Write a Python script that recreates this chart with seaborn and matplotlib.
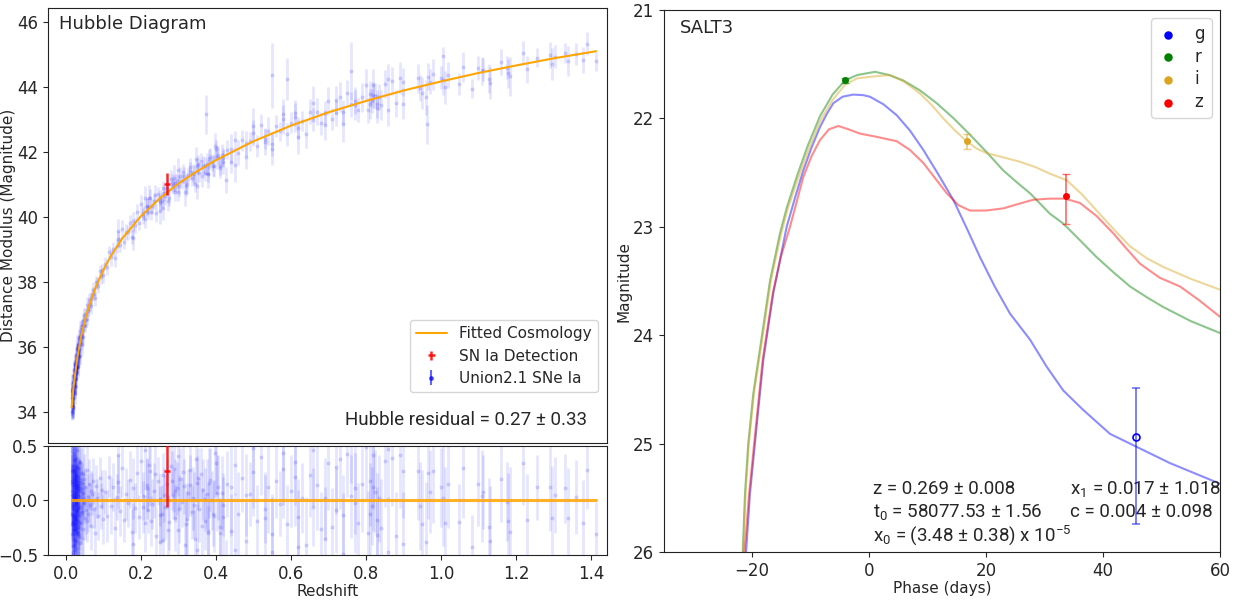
import numpy as np
import matplotlib
matplotlib.use("Agg")
import matplotlib.pyplot as plt
from matplotlib.legend_handler import HandlerErrorbar
import seaborn as sns

sns.set_style("ticks")
plt.rcParams['font.family'] = ['DejaVu Sans']
plt.rcParams['mathtext.fontset'] = 'custom'
plt.rcParams['mathtext.rm'] = 'Roboto'
plt.rcParams['mathtext.it'] = 'Roboto'
plt.rcParams['xtick.direction'] = 'out'
plt.rcParams['ytick.direction'] = 'out'
plt.rcParams['axes.edgecolor'] = '#222222'
NARROW = ['Roboto', 'DejaVu Sans']

# ---------------- Hubble diagram data ----------------
curve_z = [0.015, 0.02, 0.03, 0.04, 0.05, 0.06, 0.08, 0.10, 0.12, 0.15, 0.20, 0.25,
           0.30, 0.35, 0.40, 0.50, 0.60, 0.70, 0.80, 0.90, 1.00, 1.10, 1.20, 1.30, 1.414]
curve_mu = [34.13, 34.77, 35.66, 36.31, 36.81, 37.22, 37.87, 38.38, 38.81, 39.34, 40.03, 40.57,
            41.03, 41.41, 41.75, 42.33, 42.81, 43.22, 43.57, 43.89, 44.17, 44.43, 44.66, 44.88, 45.10]

lowz_z = [0.015, 0.016, 0.016, 0.017, 0.017, 0.018, 0.018, 0.019, 0.019, 0.020,
          0.020, 0.021, 0.021, 0.022, 0.022, 0.023, 0.023, 0.024, 0.024, 0.025,
          0.025, 0.026, 0.026, 0.027, 0.027, 0.028, 0.028, 0.029, 0.030, 0.030,
          0.031, 0.031, 0.032, 0.033, 0.033, 0.034, 0.035, 0.035, 0.036, 0.037,
          0.038, 0.039, 0.040, 0.041, 0.042, 0.043, 0.044, 0.045, 0.046, 0.048,
          0.049, 0.050, 0.052, 0.053, 0.055, 0.056, 0.058, 0.060, 0.062, 0.064,
          0.066, 0.068, 0.070, 0.072, 0.075, 0.078, 0.080, 0.083, 0.086, 0.090,
          0.093, 0.096, 0.100, 0.016, 0.019, 0.024, 0.028, 0.032, 0.037, 0.045]
lowz_res = [-0.12, 0.18, -0.31, 0.05, 0.27, -0.08, -0.42, 0.12, -0.20, 0.33,
            -0.05, 0.21, -0.27, 0.08, -0.15, 0.40, -0.36, 0.02, 0.14, -0.22,
            0.26, -0.10, 0.06, -0.38, 0.17, 0.31, -0.03, -0.18, 0.10, -0.29,
            0.22, -0.07, 0.13, -0.24, 0.04, 0.35, -0.14, 0.09, -0.33, 0.19,
            -0.06, 0.11, -0.21, 0.25, 0.01, -0.11, 0.16, -0.26, 0.07, -0.02,
            0.20, -0.16, 0.12, -0.09, 0.28, -0.19, 0.03, -0.12, 0.15, -0.04,
            0.09, -0.23, 0.06, 0.18, -0.08, -0.30, 0.13, 0.02, -0.14, 0.21,
            -0.05, 0.10, -0.17, 0.45, -0.47, 0.38, -0.44, 0.30, -0.39, 0.24]
lowz_err = [0.22, 0.25, 0.20, 0.28, 0.18, 0.24, 0.30, 0.21, 0.26, 0.19,
            0.23, 0.27, 0.20, 0.22, 0.29, 0.18, 0.25, 0.21, 0.24, 0.20,
            0.26, 0.22, 0.19, 0.28, 0.23, 0.21, 0.25, 0.20, 0.24, 0.22,
            0.18, 0.26, 0.21, 0.23, 0.19, 0.27, 0.20, 0.22, 0.25, 0.18,
            0.21, 0.24, 0.19, 0.23, 0.20, 0.22, 0.18, 0.25, 0.21, 0.19,
            0.23, 0.20, 0.18, 0.22, 0.24, 0.19, 0.21, 0.17, 0.23, 0.20,
            0.18, 0.22, 0.19, 0.21, 0.17, 0.24, 0.20, 0.18, 0.22, 0.19,
            0.21, 0.18, 0.23, 0.30, 0.32, 0.28, 0.31, 0.27, 0.29, 0.26]

lowz2_z = [0.015, 0.016, 0.017, 0.018, 0.019, 0.020, 0.021, 0.022, 0.023, 0.024,
           0.025, 0.026, 0.027, 0.028, 0.029, 0.030, 0.031, 0.032, 0.034, 0.036,
           0.017, 0.019, 0.021, 0.023, 0.025, 0.027, 0.029, 0.033, 0.038, 0.042]
lowz2_res = [0.09, -0.22, 0.15, -0.35, 0.28, -0.13, 0.04, 0.37, -0.26, 0.19,
             -0.41, 0.07, -0.17, 0.23, -0.09, 0.32, -0.30, 0.11, -0.20, 0.16,
             0.48, -0.49, 0.43, -0.45, 0.02, -0.01, 0.46, -0.48, 0.35, -0.34]
lowz2_err = [0.24, 0.21, 0.27, 0.23, 0.26, 0.20, 0.28, 0.22, 0.25, 0.19,
             0.27, 0.23, 0.21, 0.26, 0.24, 0.22, 0.28, 0.20, 0.25, 0.23,
             0.32, 0.34, 0.30, 0.33, 0.29, 0.31, 0.35, 0.30, 0.28, 0.32]

midz_z = [0.105, 0.11, 0.115, 0.12, 0.125, 0.13, 0.135, 0.14, 0.145, 0.15,
          0.155, 0.16, 0.165, 0.17, 0.175, 0.18, 0.185, 0.19, 0.195, 0.20,
          0.205, 0.21, 0.215, 0.22, 0.225, 0.23, 0.235, 0.24, 0.245, 0.25,
          0.255, 0.26, 0.265, 0.27, 0.275, 0.28, 0.285, 0.29, 0.295, 0.30,
          0.305, 0.31, 0.315, 0.32, 0.325, 0.33, 0.335, 0.34, 0.345, 0.35,
          0.355, 0.36, 0.365, 0.37, 0.375, 0.38, 0.385, 0.39, 0.395, 0.40,
          0.405, 0.41, 0.415, 0.42, 0.14, 0.18, 0.21, 0.25, 0.30, 0.35]
midz_res = [0.08, -0.14, 0.22, -0.05, 0.12, -0.25, 0.03, 0.17, -0.10, 0.30,
            -0.18, 0.06, -0.02, 0.19, -0.29, 0.11, -0.07, 0.25, -0.15, 0.36,
            0.04, -0.21, 0.14, -0.09, 0.27, -0.03, 0.09, -0.33, 0.18, 0.01,
            -0.12, 0.23, -0.06, 0.15, -0.20, 0.32, 0.05, -0.16, 0.11, -0.27,
            0.20, -0.01, 0.13, -0.22, 0.07, 0.28, -0.11, 0.02, -0.35, 0.16,
            -0.08, 0.24, 0.10, -0.19, 0.06, -0.30, 0.19, 0.00, -0.14, 0.34,
            0.12, -0.24, 0.07, -0.04, 0.42, -0.40, 0.46, -0.38, 0.41, -0.45]
midz_err = [0.20, 0.24, 0.19, 0.26, 0.22, 0.28, 0.21, 0.25, 0.23, 0.27,
            0.20, 0.24, 0.22, 0.26, 0.21, 0.28, 0.23, 0.25, 0.20, 0.30,
            0.22, 0.26, 0.24, 0.21, 0.28, 0.23, 0.25, 0.27, 0.22, 0.24,
            0.26, 0.21, 0.29, 0.23, 0.25, 0.27, 0.22, 0.30, 0.24, 0.26,
            0.28, 0.23, 0.25, 0.31, 0.22, 0.27, 0.24, 0.29, 0.26, 0.25,
            0.30, 0.24, 0.28, 0.26, 0.32, 0.25, 0.29, 0.27, 0.33, 0.28,
            0.30, 0.26, 0.34, 0.29, 0.35, 0.38, 0.36, 0.40, 0.37, 0.42]

sdss_z = [0.205, 0.215, 0.228, 0.238, 0.252, 0.262, 0.272, 0.283, 0.292, 0.302,
          0.312, 0.322, 0.332, 0.342, 0.352, 0.362, 0.372, 0.382, 0.392, 0.402,
          0.412, 0.222, 0.258, 0.288, 0.318, 0.348, 0.378, 0.398, 0.418, 0.44]
sdss_res = [-0.06, 0.11, -0.19, 0.24, -0.13, 0.05, -0.27, 0.18, 0.09, -0.08,
            0.26, -0.17, 0.14, -0.04, 0.21, -0.23, 0.01, 0.16, -0.12, 0.07,
            -0.30, 0.33, -0.36, 0.29, -0.41, 0.38, -0.28, 0.44, -0.15, 0.12]
sdss_err = [0.24, 0.28, 0.23, 0.30, 0.26, 0.25, 0.32, 0.27, 0.29, 0.31,
            0.26, 0.33, 0.28, 0.30, 0.27, 0.34, 0.29, 0.32, 0.30, 0.35,
            0.31, 0.38, 0.36, 0.40, 0.42, 0.39, 0.44, 0.41, 0.37, 0.45]

highz_z = [0.43, 0.44, 0.45, 0.46, 0.47, 0.48, 0.49, 0.50, 0.51, 0.52,
           0.53, 0.54, 0.55, 0.56, 0.57, 0.58, 0.59, 0.60, 0.61, 0.62,
           0.63, 0.64, 0.65, 0.66, 0.67, 0.68, 0.69, 0.70, 0.71, 0.72,
           0.73, 0.74, 0.75, 0.76, 0.77, 0.78, 0.79, 0.80, 0.805, 0.81,
           0.815, 0.82, 0.825, 0.83, 0.835, 0.84, 0.85, 0.86, 0.87, 0.88,
           0.89, 0.90, 0.45, 0.50, 0.55, 0.58, 0.62, 0.66, 0.74, 0.81,
           0.82, 0.83, 0.48, 0.53, 0.61, 0.69, 0.72, 0.77, 0.86, 0.90]
highz_res = [0.15, -0.28, 0.33, -0.12, 0.21, -0.37, 0.06, 0.26, -0.19, 0.40,
             -0.08, 0.12, -0.31, 0.18, -0.03, 0.29, -0.22, 0.09, 0.35, -0.15,
             0.02, -0.41, 0.23, -0.06, 0.14, -0.26, 0.02, 0.34, -0.24, -0.09,
             0.38, -0.13, 0.43, 0.04, 0.11, -0.21, 0.15, 0.49, -0.30, 0.18,
             -0.05, 0.42, 0.08, -0.18, 0.02, -0.25, 0.36, 0.47, 0.39, -0.33,
             0.42, 0.27, -0.45, 0.48, -0.47, 0.44, -0.43, 0.46, -0.49, -0.12,
             0.12, -0.32, 0.05, -0.16, 0.22, -0.35, 0.31, -0.02, -0.47, -0.40]
highz_err = [0.30, 0.34, 0.28, 0.38, 0.32, 0.36, 0.29, 0.40, 0.33, 0.35,
             0.31, 0.42, 0.37, 0.34, 0.30, 0.45, 0.36, 0.33, 0.39, 0.35,
             0.32, 0.44, 0.38, 0.36, 0.41, 0.34, 0.37, 0.43, 0.35, 0.39,
             0.46, 0.36, 0.40, 0.38, 0.42, 0.37, 0.44, 0.48, 0.39, 0.41,
             0.36, 0.50, 0.38, 0.43, 0.40, 0.45, 0.42, 0.47, 0.44, 0.41,
             0.49, 0.43, 0.52, 0.55, 0.50, 0.48, 0.53, 0.51, 0.56, 0.46,
             0.40, 0.44, 0.38, 0.42, 0.45, 0.47, 0.43, 0.46, 0.50, 0.48]

farz_z = [0.94, 0.945, 0.95, 0.96, 0.965, 0.97, 0.98, 1.00, 1.005, 1.01,
          1.02, 1.047, 1.06, 1.082, 1.10, 1.11, 1.112, 1.128, 1.13, 1.16,
          1.177, 1.18, 1.185, 1.22, 1.23, 1.255, 1.29, 1.295, 1.303, 1.33,
          1.34, 1.36, 1.38, 1.39, 1.414]
farz_res = [0.27, -0.05, -0.22, -0.38, 0.25, 0.08, 0.27, 0.12, 0.02, -0.21,
            0.15, -0.20, 0.30, -0.43, 0.15, 0.04, 0.08, -0.24, -0.37, 0.20,
            -0.01, -0.19, -0.29, 0.34, -0.18, 0.12, 0.12, -0.16, 0.05, 0.11,
            -0.16, 0.03, -0.21, 0.28, -0.31]
farz_err = [0.45, 0.40, 0.50, 0.55, 0.42, 0.38, 0.48, 0.36, 0.44, 0.52,
            0.40, 0.35, 0.46, 0.30, 0.38, 0.42, 0.34, 0.45, 0.50, 0.40,
            0.36, 0.44, 0.60, 0.38, 0.42, 0.30, 0.40, 0.48, 0.35, 0.32,
            0.46, 0.34, 0.40, 0.36, 0.30]

outlier_z = [0.373, 0.549, 0.589, 0.76, 0.964, 1.005, 0.428]
outlier_res = [1.60, 1.80, 1.48, 1.06, -1.22, 0.76, -0.76]
outlier_err = [0.60, 1.00, 0.65, 0.90, 0.60, 0.30, 0.40]

det_z, det_zerr = 0.269, 0.008
det_res, det_err = 0.27, 0.33

# ---------------- Light-curve data (SALT3 model) ----------------
g_phase = [-22.0, -20.99, -20.31, -19.17, -18.03, -16.32, -14.04, -12.6, -11.2, -9.8, -8.35,
           -7.2, -6.07, -4.5, -2.66, -1.0, 0.19, 2.5, 4.75, 7.0, 9.3, 11.8, 14.42, 16.7,
           18.99, 21.5, 24.11, 27.53, 30.38, 33.22, 36.64, 41.2, 45.76, 51.45, 60.0]
g_mag = [26.70, 26.01, 25.46, 24.84, 24.23, 23.61, 23.00, 22.73, 22.48, 22.27, 22.08,
         21.96, 21.86, 21.80, 21.78, 21.785, 21.80, 21.87, 21.97, 22.11, 22.29, 22.51, 22.75, 23.01,
         23.28, 23.55, 23.80, 24.04, 24.29, 24.51, 24.69, 24.91, 25.03, 25.18, 25.37]
r_phase = [-22.2, -21.55, -21.16, -20.6, -19.74, -18.03, -16.89, -15.18, -14.0, -12.33, -10.5,
           -8.35, -6.2, -4.08, -2.0, 1.05, 3.5, 5.88, 8.7, 11.6, 14.5, 17.28, 20.1, 22.97,
           25.3, 27.53, 30.95, 33.22, 36.0, 38.92, 41.8, 44.62, 47.5, 50.3, 55.0, 60.0]
r_mag = [26.70, 26.01, 25.46, 25.00, 24.54, 23.92, 23.50, 23.06, 22.82, 22.54, 22.26,
         21.98, 21.78, 21.65, 21.60, 21.57, 21.60, 21.65, 21.74, 21.86, 22.00, 22.15, 22.31, 22.48,
         22.59, 22.69, 22.88, 22.97, 23.12, 23.28, 23.42, 23.55, 23.65, 23.74, 23.87, 23.98]
i_phase = [-22.1, -21.45, -21.06, -20.5, -19.64, -17.9, -16.75, -15.05, -13.9, -12.2, -10.4,
           -8.35, -6.2, -4.08, -2.0, 1.33, 3.6, 6.0, 8.74, 10.8, 12.72, 14.7, 16.71, 18.5,
           20.13, 23.0, 25.83, 28.5, 30.95, 33.8, 36.4, 38.92, 41.8, 44.62, 47.5, 50.3, 55.0, 60.0]
i_mag = [26.70, 26.01, 25.46, 25.00, 24.54, 23.92, 23.50, 23.08, 22.84, 22.57, 22.30,
         22.03, 21.83, 21.69, 21.63, 21.61, 21.60, 21.66, 21.77, 21.88, 22.00, 22.11, 22.21, 22.28,
         22.32, 22.36, 22.40, 22.45, 22.51, 22.57, 22.70, 22.85, 23.02, 23.18, 23.29, 23.37, 23.48, 23.58]
z_phase = [-22.0, -21.25, -20.45, -19.3, -18.15, -16.4, -15.0, -13.47, -11.2, -9.8, -8.35,
           -6.8, -5.22, -3.5, -1.52, 1.33, 4.75, 7.0, 9.3, 11.3, 13.3, 15.3, 17.28, 20.0,
           22.97, 25.5, 28.1, 30.95, 33.5, 36.07, 38.9, 41.77, 44.0, 46.32, 49.7, 53.16, 56.5, 60.0]
z_mag = [26.70, 26.01, 25.46, 24.84, 24.23, 23.61, 23.27, 23.00, 22.54, 22.35, 22.20,
         22.10, 22.07, 22.10, 22.14, 22.17, 22.21, 22.29, 22.41, 22.55, 22.69, 22.80, 22.85, 22.85,
         22.83, 22.79, 22.75, 22.74, 22.74, 22.78, 22.90, 23.06, 23.20, 23.34, 23.47, 23.55, 23.68, 23.83]

obs_band = ['g', 'r', 'i', 'z']
obs_phase = [45.64, -4.08, 16.71, 33.68]
obs_mag = [24.94, 21.65, 22.21, 22.72]
obs_err_lo = [0.45, 0.02, 0.07, 0.21]
obs_err_hi = [0.80, 0.02, 0.07, 0.25]
band_colors = ['blue', 'green', 'goldenrod', 'red']

# ---------------- derived arrays ----------------
sn_z = np.array(lowz_z + lowz2_z + midz_z + sdss_z + highz_z + farz_z + outlier_z)
sn_res = np.array(lowz_res + lowz2_res + midz_res + sdss_res + highz_res + farz_res + outlier_res)
sn_err = np.array(lowz_err + lowz2_err + midz_err + sdss_err + highz_err + farz_err + outlier_err)
sn_mu = np.interp(sn_z, curve_z, curve_mu) + sn_res
det_mu = float(np.interp(det_z, curve_z, curve_mu)) + det_res

# ---------------- figure ----------------
fig = plt.figure(figsize=(12.5, 6), dpi=100)
ax_top = fig.add_axes([0.0384, 0.2617, 0.4472, 0.725])
ax_res = fig.add_axes([0.0384, 0.075, 0.4472, 0.1817], sharex=ax_top)
ax_lc = fig.add_axes([0.5312, 0.08, 0.4448, 0.9033])

# Top: Hubble diagram
ax_top.errorbar(sn_z, sn_mu, yerr=sn_err, fmt='.', color='blue', ms=4,
                elinewidth=2, alpha=0.1, zorder=2)
sns.lineplot(x=curve_z, y=curve_mu, ax=ax_top, color='orange', lw=1.5,
             legend=False, sort=False, zorder=3)
fit_line = ax_top.lines[-1]
det = ax_top.errorbar([det_z], [det_mu], xerr=[det_zerr], yerr=[det_err], fmt='none',
                      ecolor='red', elinewidth=1.8, alpha=0.85, zorder=4)
proxy = ax_top.errorbar([np.nan], [np.nan], yerr=[0.3], fmt='.', color='blue', ms=5,
                        elinewidth=1.5, alpha=0.6)
ax_top.legend([fit_line, det, proxy], ['Fitted Cosmology', 'SN Ia Detection', 'Union2.1 SNe Ia'],
              loc='lower right', bbox_to_anchor=(0.997, 0.099), fontsize=11, frameon=True,
              handler_map={det: HandlerErrorbar(xerr_size=0.22, yerr_size=0.3)})
ax_top.set_xlim(-0.048, 1.443)
ax_top.set_ylim(33.05, 46.43)
ax_top.set_yticks([34, 36, 38, 40, 42, 44, 46])
ax_top.set_ylabel('Distance Modulus (Magnitude)', fontsize=11, labelpad=1)
ax_top.tick_params(axis='x', bottom=False, labelbottom=False)
ax_top.tick_params(axis='y', labelsize=12)
ax_top.text(0.02, 0.963, 'Hubble Diagram', transform=ax_top.transAxes, fontsize=13,
            va='center', ha='left')
ax_top.text(0.965, 0.053, 'Hubble residual = 0.27 ± 0.33', transform=ax_top.transAxes,
            fontsize=13.5, ha='right', va='center', family=NARROW)

# Bottom: residuals
ax_res.errorbar(sn_z, sn_res, yerr=sn_err, fmt='.', color='blue', ms=4,
                elinewidth=2, alpha=0.1, zorder=2)
sns.lineplot(x=curve_z, y=np.subtract(curve_mu, curve_mu), ax=ax_res, color='orange',
             lw=2.2, alpha=0.85, legend=False, sort=False, zorder=3)
ax_res.errorbar([det_z], [det_res], xerr=[det_zerr], yerr=[det_err], fmt='none',
                ecolor='red', elinewidth=1.8, alpha=0.85, zorder=4)
ax_res.set_ylim(-0.5, 0.5)
ax_res.set_yticks([-0.5, 0.0, 0.5])
ax_res.set_xticks([0.0, 0.2, 0.4, 0.6, 0.8, 1.0, 1.2, 1.4])
ax_res.set_xlabel('Redshift', fontsize=11, labelpad=1)
ax_res.tick_params(labelsize=12)

# Right: SALT3 light curves
for ph, mg, col in [(g_phase, g_mag, 'blue'), (r_phase, r_mag, 'green'),
                    (i_phase, i_mag, 'goldenrod'), (z_phase, z_mag, 'red')]:
    sns.lineplot(x=ph, y=mg, ax=ax_lc, color=col, alpha=0.45, lw=1.5,
                 legend=False, sort=False)

for b, ph, mg, lo, hi, col in zip(obs_band, obs_phase, obs_mag, obs_err_lo, obs_err_hi, band_colors):
    ecol = matplotlib.colors.to_rgba(col, 0.55)
    if b == 'g':
        ax_lc.errorbar([ph], [mg], yerr=[[lo], [hi]], fmt='o', mfc='none', mec=col,
                       ms=5, mew=1.2, ecolor=ecol, capsize=3, elinewidth=1.3, zorder=5)
    else:
        ax_lc.errorbar([ph], [mg], yerr=[[lo], [hi]], fmt='o', color=col,
                       ms=4, ecolor=ecol, capsize=3, elinewidth=1.3, zorder=5)
    ax_lc.scatter([], [], color=col, s=26, label=b)

ax_lc.legend(loc='upper right', fontsize=12, handlelength=1.2, handletextpad=1.0,
             borderpad=0.4, labelspacing=0.28, frameon=True)
ax_lc.set_xlim(-35, 60)
ax_lc.set_ylim(26, 21)
ax_lc.set_xticks([-20, 0, 20, 40, 60])
ax_lc.set_yticks([21, 22, 23, 24, 25, 26])
ax_lc.set_xlabel('Phase (days)', fontsize=11, labelpad=1)
ax_lc.set_ylabel('Magnitude', fontsize=11, labelpad=1)
ax_lc.tick_params(labelsize=12)
ax_lc.text(0.029, 0.967, 'SALT3', transform=ax_lc.transAxes, fontsize=13, va='center')

ax_lc.text(0.376, 0.116, 'z = 0.269 ± 0.008', transform=ax_lc.transAxes, fontsize=13.5,
           va='center', family=NARROW)
ax_lc.text(0.376, 0.074, 't$_0$ = 58077.53 ± 1.56', transform=ax_lc.transAxes, fontsize=13.5,
           va='center', family=NARROW)
ax_lc.text(0.376, 0.031, 'x$_0$ = (3.48 ± 0.38) x 10$^{-5}$', transform=ax_lc.transAxes,
           fontsize=13.5, va='center', family=NARROW)
ax_lc.text(0.730, 0.116, 'x$_1$ = 0.017 ± 1.018', transform=ax_lc.transAxes, fontsize=13.5,
           va='center', family=NARROW)
ax_lc.text(0.730, 0.074, 'c = 0.004 ± 0.098', transform=ax_lc.transAxes, fontsize=13.5,
           va='center', family=NARROW)

fig.savefig('out.png', dpi=100)
